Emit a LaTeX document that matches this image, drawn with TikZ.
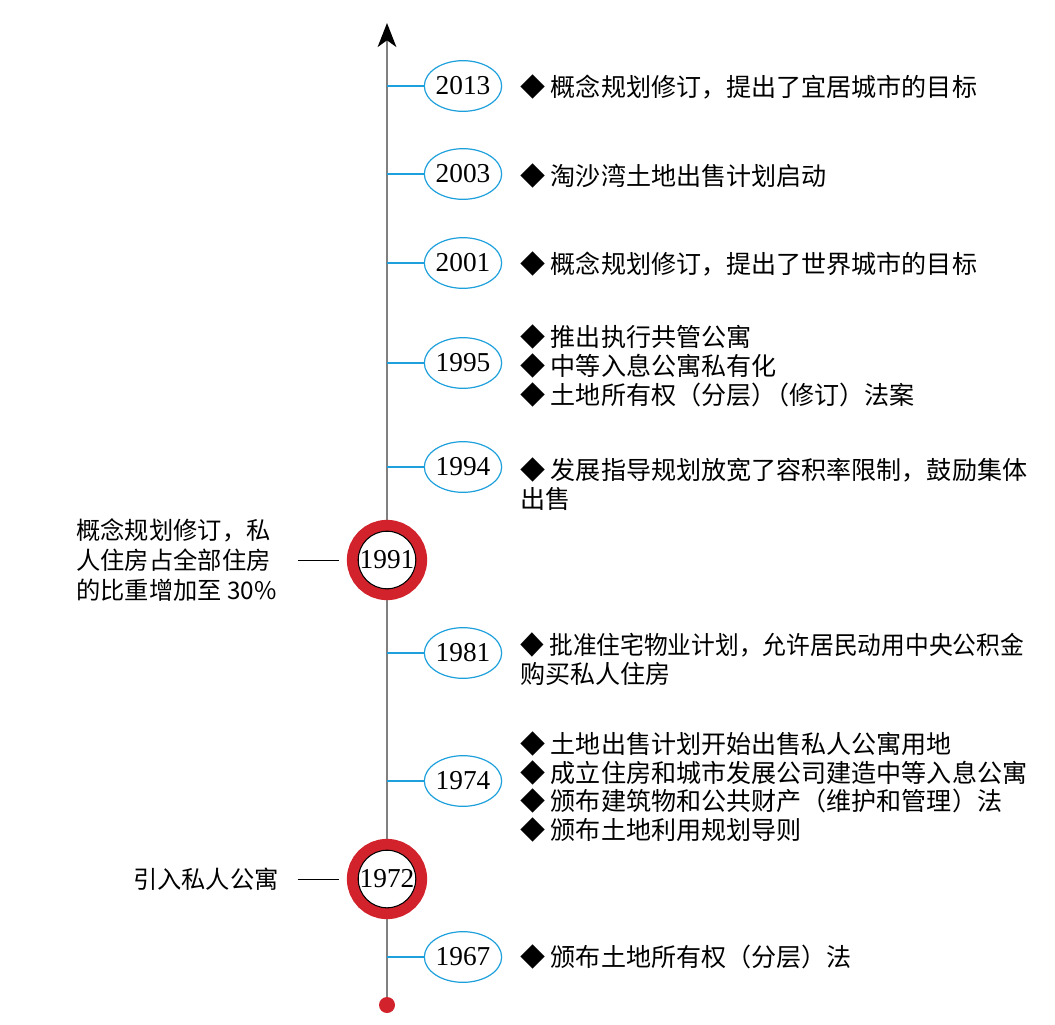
\documentclass[tikz,border=0pt]{standalone}
\usepackage{fontspec}
\setmainfont{Noto Sans CJK SC}
\newfontfamily\yearfont{Liberation Serif}
\usepackage{tikz}
\usetikzlibrary{arrows.meta, shapes.geometric}
\usepackage{xcolor}
\definecolor{lineblue}{RGB}{30,160,220}
\definecolor{ringred}{RGB}{210,35,45}
\definecolor{axisgray}{RGB}{128,128,128}
\tikzset{%
	year mark/.style={
		ellipse,
		draw=lineblue,
		line width=0.9pt,
		fill=white,
		minimum width=45pt,
		minimum height=38pt,
		inner sep=0pt,
		font=\yearfont\fontsize{20.5}{20.5}\selectfont
	},
	key year/.style={
		circle,
		draw=black,
		line width=0.8pt,
		fill=white,
		minimum size=42pt,
		inner sep=0pt,
		preaction={draw=ringred, line width=17pt},
		font=\yearfont\fontsize{20.5}{20.5}\selectfont
	},
	event text/.style={
		anchor=west,
		align=left,
		inner sep=0pt,
		font=\fontsize{18.8}{21.4}\selectfont
	},
	side note/.style={
		anchor=east,
		align=left,
		inner sep=0pt,
		font=\fontsize{18.2}{22.5}\selectfont
	},
	tick/.style={
		draw=lineblue,
		line width=0.9pt
	},
}
\begin{document}
\begin{tikzpicture}[x=0.75pt, y=-0.75pt]
	\useasboundingbox (0,0) rectangle (1055,1024);
	
	% Draw the time axis
	\coordinate (top) at (387,23);
	\coordinate (bottom) at (387,1005);
	\draw[axisgray, line width=1.5pt, -{Stealth[black, length=18pt, width=14pt, inset=5pt]}] (bottom) -- (top);
	
	% Years on the right
	\node[year mark] (y2013) at (463,86) {2013};
	\node[year mark] (y2003) at (463,174) {2003};
	\node[year mark] (y2001) at (463,263) {2001};
	\node[year mark] (y1995) at (463,363) {1995};
	\node[year mark] (y1994) at (463,467) {1994};
	\node[year mark] (y1981) at (463,653) {1981};
	\node[year mark] (y1974) at (463,781) {1974};
	\node[year mark] (y1967) at (463,957) {1967};
	\foreach \y in {y2013,y2003,y2001,y1995,y1994,y1981,y1974,y1967}
		\draw[tick] (\y.west -| top) -- (\y.west);
	
	% Key years on the axis
	\node[key year] (y1991) at (387,560) {1991};
	\node[key year] (y1972) at (387,879) {1972};
	\node[circle, fill=ringred, minimum size=12pt, inner sep=0pt] (dot) at (bottom) {};
	
	% Events
	\node[event text] (e2013) at (520,87) {◆ 概念规划修订，提出了宜居城市的目标};
	\node[event text] (e2003) at (520,176) {◆ 淘沙湾土地出售计划启动};
	\node[event text] (e2001) at (520,264) {◆ 概念规划修订，提出了世界城市的目标};
	\node[event text] (e1995) at (520,366) {◆ 推出执行共管公寓\\◆ 中等入息公寓私有化\\◆ 土地所有权（分层）\kern-0.5em（修订）法案};
	\node[event text] (e1994) at (520,484) {◆ 发展指导规划放宽了容积率限制，鼓励集体\\出售};
	\node[event text] (e1981) at (520,659) {\scalebox{0.947}[1]{◆ 批准住宅物业计划，允许居民动用中央公积金}\\购买私人住房};
	\node[event text] (e1974) at (520,787) {◆ 土地出售计划开始出售私人公寓用地\\◆ 成立住房和城市发展公司建造中等入息公寓\\◆ 颁布建筑物和公共财产（维护和管理）法\\◆ 颁布土地利用规划导则};
	\node[event text] (e1967) at (520,957) {◆ 颁布土地所有权（分层）法};
	
	% Notes on the left
	\node[side note] (n1991) at (277,560) {概念规划修订，私\\人住房占全部住房\\的比重增加至 30\%};
	\node[side note] (n1972) at (279,879) {引入私人公寓};
	\draw[line width=0.6pt, shorten <=16pt, shorten >=14pt] (n1991.east) -- (y1991.west);
	\draw[line width=0.6pt, shorten <=14pt, shorten >=14pt] (n1972.east) -- (y1972.west);
\end{tikzpicture}
\end{document}
